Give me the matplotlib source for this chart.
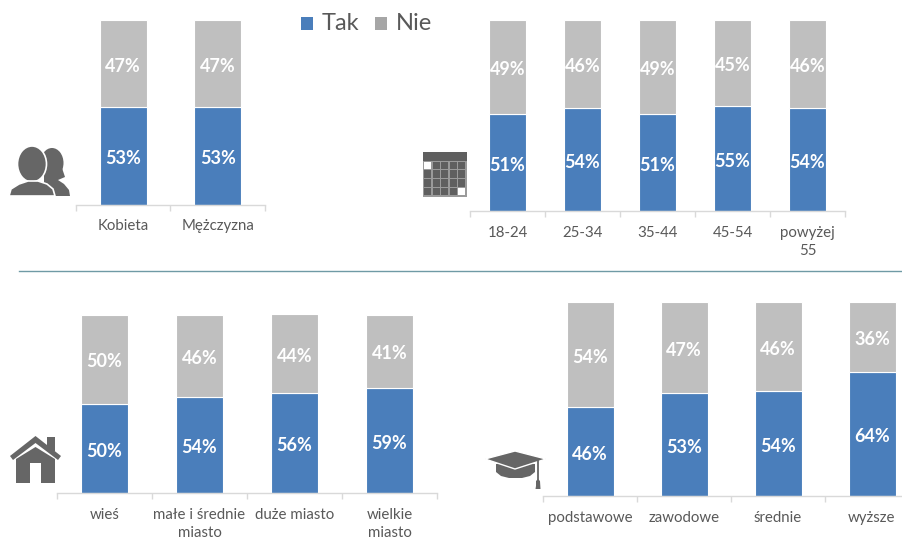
import matplotlib
matplotlib.use("Agg")
import matplotlib.pyplot as plt
from matplotlib.patches import Polygon, Ellipse, Rectangle

plt.rcParams["font.family"] = ["Lato", "DejaVu Sans"]

W, H = 903, 540
BLUE = "#4a7ebb"
GRAY = "#bfbfbf"
ICON = "#666666"
TEXT = "#595959"
AXIS = "#d9d9d9"

# Data
plec_labels = ["Kobieta", "Mężczyzna"]
plec_tak = [53, 53]
plec_nie = [47, 47]

wiek_labels = ["18-24", "25-34", "35-44", "45-54", "powyżej\n55"]
wiek_tak = [51, 54, 51, 55, 54]
wiek_nie = [49, 46, 49, 45, 46]

miejsce_labels = ["wieś", "małe i średnie\nmiasto", "duże miasto", "wielkie\nmiasto"]
miejsce_tak = [50, 54, 56, 59]
miejsce_nie = [50, 46, 44, 41]

wykszt_labels = ["podstawowe", "zawodowe", "średnie", "wyższe"]
wykszt_tak = [46, 53, 54, 64]
wykszt_nie = [54, 47, 46, 36]


def stacked(fig, box, labels, tak, nie):
    """box = left, top, right, bottom of the plot area in pixels"""
    left, top, right, bottom = box
    ax = fig.add_axes([left / W, 1 - bottom / H, (right - left) / W, (bottom - top) / H])
    ax.patch.set_alpha(0)
    x = range(len(labels))
    b1 = ax.bar(x, tak, width=0.5, color=BLUE, edgecolor="white", linewidth=0.8)
    b2 = ax.bar(x, nie, width=0.5, bottom=tak, color=GRAY, edgecolor="white", linewidth=0.8)
    for bars in (b1, b2):
        texts = ax.bar_label(bars, fmt="%d%%", label_type="center", color="white",
                             fontsize=13, fontweight="bold")
        for t in texts:
            t.xyann = (0, -2)
    ax.set_xlim(-0.5, len(labels) - 0.5)
    ax.set_ylim(0, 100)
    ax.set_yticks([])
    ax.set_xticks(list(x))
    ax.set_xticklabels(labels, fontsize=10.8, color=TEXT, linespacing=1.4)
    ax.set_xticks([i - 0.5 for i in range(len(labels) + 1)], minor=True)
    ax.tick_params(axis="x", which="major", length=0, pad=10.5)
    ax.tick_params(axis="x", which="minor", length=4, color=AXIS, width=1)
    for s in ["top", "left", "right"]:
        ax.spines[s].set_visible(False)
    ax.spines["bottom"].set_color(AXIS)
    ax.spines["bottom"].set_linewidth(1)
    return ax


def people_icon(ov):
    # back person
    ov.add_patch(Ellipse((52, 163), 23, 30, facecolor=ICON, linewidth=0, zorder=1))
    ov.add_patch(Polygon([(44, 170), (62, 168), (65, 177), (58, 180), (64, 184), (69, 190), (70, 196),
                          (44, 196)], facecolor=ICON, linewidth=0, zorder=1))
    # front person
    ov.add_patch(Ellipse((32, 164), 29, 36, facecolor=ICON, edgecolor="white", linewidth=1.2, zorder=2))
    ov.add_patch(Polygon([(9, 196), (11, 189), (19, 184), (28, 181), (38, 181), (47, 184),
                          (53, 189), (55, 196)], facecolor=ICON, edgecolor="white", linewidth=1.2, zorder=3))


def calendar_icon(ov):
    ov.add_patch(Rectangle((423, 152), 44, 45, facecolor="#9a9a9a", linewidth=0))
    ov.add_patch(Rectangle((423, 152), 44, 8.5, facecolor="#5f5f5f", linewidth=0))
    for row in range(4):
        for col in range(5):
            white = (row == 0 and col == 0) or (row == 3 and col == 4)
            ov.add_patch(Rectangle((424.3 + col * 8.5, 161.5 + row * 8.8), 7.2, 7.6, linewidth=0,
                                   facecolor="white" if white else "#5f5f5f"))


def house_icon(ov):
    ov.add_patch(Rectangle((47, 437), 8, 14, facecolor=ICON, linewidth=0))
    ov.add_patch(Polygon([(10, 456), (35.5, 436), (61, 456), (58, 460), (35.5, 443), (13, 460)],
                         facecolor=ICON, linewidth=0))
    ov.add_patch(Polygon([(16, 459), (35.5, 447), (55, 459), (55, 483), (41, 483), (41, 463),
                          (30, 463), (30, 483), (16, 483)], facecolor=ICON, linewidth=0))


def cap_icon(ov):
    ov.add_patch(Polygon([(496, 464), (535, 464), (535, 472), (530, 476), (522, 478), (509, 478),
                          (501, 476), (496, 472)], facecolor=ICON, linewidth=0))
    ov.add_patch(Polygon([(485, 459), (515, 451), (546, 459), (515, 469)], facecolor=ICON,
                         edgecolor="white", linewidth=1))
    ov.plot([538, 538], [460, 481], color=ICON, lw=1.3)
    ov.add_patch(Polygon([(536, 486), (536, 481), (538, 479), (540, 481), (540.5, 489), (535.5, 489)],
                         facecolor=ICON, linewidth=0))


fig = plt.figure(figsize=(W / 100, H / 100), dpi=100, facecolor="white")

stacked(fig, (76, 20, 265, 204.5), plec_labels, plec_tak, plec_nie)
stacked(fig, (470, 20, 845, 211), wiek_labels, wiek_tak, wiek_nie)
stacked(fig, (57, 314.5, 437, 493), miejsce_labels, miejsce_tak, miejsce_nie)
stacked(fig, (543, 302, 919, 496), wykszt_labels, wykszt_tak, wykszt_nie)

# Overlay in pixel coordinates for legend, divider and icons
ov = fig.add_axes([0, 0, 1, 1], zorder=5)
ov.set_xlim(0, W)
ov.set_ylim(H, 0)
ov.axis("off")

ov.plot([19, W], [271, 271], color="#6f9aa5", lw=1)

ov.add_patch(Rectangle((301, 17), 12, 13, facecolor=BLUE, linewidth=0))
ov.text(322, 24, "Tak", fontsize=17, color=TEXT, va="center", ha="left")
ov.add_patch(Rectangle((375, 17), 12, 13, facecolor="#a6a6a6", linewidth=0))
ov.text(396, 24, "Nie", fontsize=17, color=TEXT, va="center", ha="left")

people_icon(ov)
calendar_icon(ov)
house_icon(ov)
cap_icon(ov)

fig.savefig("out.png", dpi=100)
